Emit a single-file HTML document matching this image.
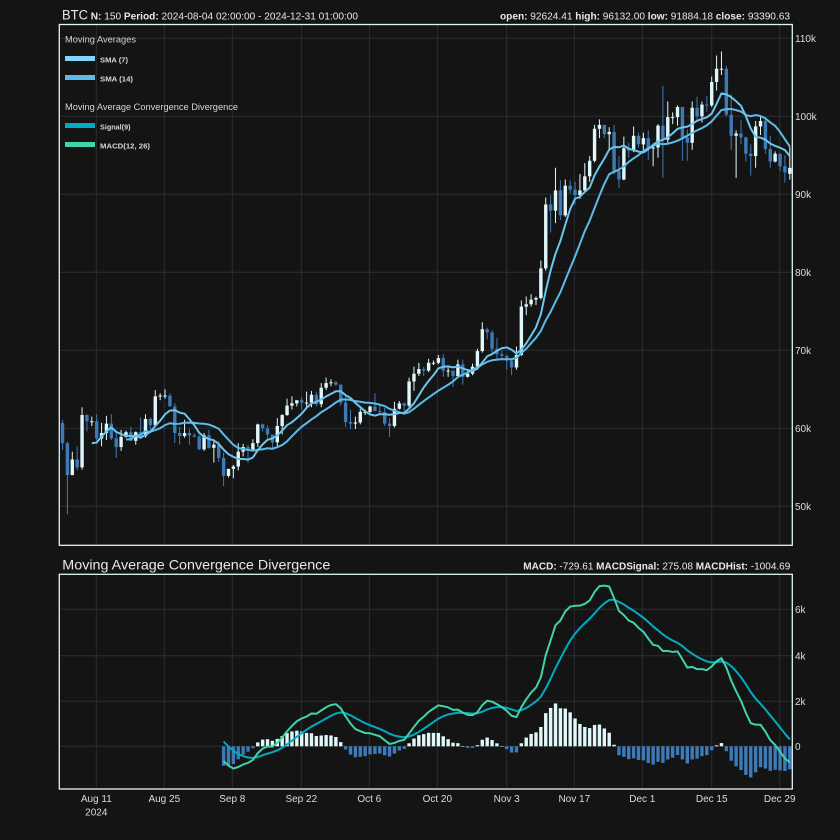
<!DOCTYPE html>
<html><head><meta charset="utf-8"><style>
html,body{margin:0;padding:0;background:#141414;}
svg{display:block;}
text{font-family:"Liberation Sans",sans-serif;}
</style></head><body>
<svg id="s" width="840" height="840" viewBox="0 0 840 840" xmlns="http://www.w3.org/2000/svg">
<rect width="840" height="840" fill="#141414"/>
<defs>
<clipPath id="c1"><rect x="59.3" y="24.5" width="733" height="520.8"/></clipPath>
<clipPath id="c2"><rect x="59.3" y="574.3" width="733" height="214.7"/></clipPath>
</defs>
<g stroke="#2a2e35" stroke-width="1" fill="none">
<path d="M96.3 24.5V545.3M164.3 24.5V545.3M232.3 24.5V545.3M301.3 24.5V545.3M369.3 24.5V545.3M437.3 24.5V545.3M506.7 24.5V545.3M574.3 24.5V545.3M642.3 24.5V545.3M711.7 24.5V545.3M779.7 24.5V545.3"/>
<path d="M59.3 38.3H792.3M59.3 116.3H792.3M59.3 194.3H792.3M59.3 272.3H792.3M59.3 350.3H792.3M59.3 428.3H792.3M59.3 506.3H792.3"/>
<path d="M96.3 574.3V789M164.3 574.3V789M232.3 574.3V789M301.3 574.3V789M369.3 574.3V789M437.3 574.3V789M506.7 574.3V789M574.3 574.3V789M642.3 574.3V789M711.7 574.3V789M779.7 574.3V789"/>
<path d="M59.3 609.3H792.3M59.3 655.7H792.3M59.3 701.3H792.3M59.3 746.3H792.3"/>
</g>
<g id="main" clip-path="url(#c1)"></g>
<g id="macd" clip-path="url(#c2)"></g>
<rect x="59.3" y="24.5" width="733" height="520.8" fill="none" stroke="#dff3f5" stroke-width="1.3"/>
<rect x="59.3" y="574.3" width="733" height="214.7" fill="none" stroke="#dff3f5" stroke-width="1.3"/>

<text x="62" y="19.3" fill="#e8e8e8" textLength="296" lengthAdjust="spacingAndGlyphs"><tspan font-size="13.5">BTC</tspan><tspan font-size="10.5" font-weight="bold"> N:</tspan><tspan font-size="10.5"> 150 </tspan><tspan font-size="10.5" font-weight="bold">Period:</tspan><tspan font-size="10.5"> 2024-08-04 02:00:00 - 2024-12-31 01:00:00</tspan></text>
<text x="500" y="19.3" fill="#e8e8e8" font-size="10.5" textLength="290" lengthAdjust="spacingAndGlyphs"><tspan font-weight="bold">open:</tspan> 92624.41 <tspan font-weight="bold">high:</tspan> 96132.00 <tspan font-weight="bold">low:</tspan> 91884.18 <tspan font-weight="bold">close:</tspan> 93390.63</text>

<text x="65" y="42.7" fill="#cfd8dc" font-size="9" textLength="71" lengthAdjust="spacingAndGlyphs">Moving Averages</text>
<rect x="65" y="56" width="30" height="5" fill="#81d4fa"/>
<text x="100" y="62.3" fill="#cfd8dc" font-size="7.5" font-weight="bold" textLength="28" lengthAdjust="spacingAndGlyphs">SMA (7)</text>
<rect x="65" y="75" width="30" height="5" fill="#5bbce8"/>
<text x="100" y="81.3" fill="#cfd8dc" font-size="7.5" font-weight="bold" textLength="33" lengthAdjust="spacingAndGlyphs">SMA (14)</text>
<text x="65" y="110" fill="#cfd8dc" font-size="9" textLength="173" lengthAdjust="spacingAndGlyphs">Moving Average Convergence Divergence</text>
<rect x="65" y="123" width="30" height="5" fill="#00acc1"/>
<text x="100" y="129.3" fill="#cfd8dc" font-size="7.5" font-weight="bold" textLength="30.5" lengthAdjust="spacingAndGlyphs">Signal(9)</text>
<rect x="65" y="142" width="30" height="5" fill="#40d3aa"/>
<text x="100" y="148.3" fill="#cfd8dc" font-size="7.5" font-weight="bold" textLength="50" lengthAdjust="spacingAndGlyphs">MACD(12, 26)</text>

<text x="62.3" y="569.3" fill="#e8e8e8" font-size="14" textLength="268" lengthAdjust="spacingAndGlyphs">Moving Average Convergence Divergence</text>
<text x="523.3" y="569.3" fill="#e8e8e8" font-size="10.5" textLength="267" lengthAdjust="spacingAndGlyphs"><tspan font-weight="bold">MACD:</tspan> -729.61 <tspan font-weight="bold">MACDSignal:</tspan> 275.08 <tspan font-weight="bold">MACDHist:</tspan> -1004.69</text>

<g fill="#dcdcdc" font-size="10">
<text x="795" y="41.9">110k</text>
<text x="795" y="119.9">100k</text>
<text x="795" y="197.9">90k</text>
<text x="795" y="275.9">80k</text>
<text x="795" y="353.9">70k</text>
<text x="795" y="431.9">60k</text>
<text x="795" y="509.9">50k</text>
<text x="795" y="612.9">6k</text>
<text x="795" y="659.3">4k</text>
<text x="795" y="704.9">2k</text>
<text x="795" y="749.9">0</text>
</g>
<g fill="#dcdcdc" font-size="10" text-anchor="middle">
<text x="96.3" y="802">Aug 11</text>
<text x="96.3" y="815.3">2024</text>
<text x="164.3" y="802">Aug 25</text>
<text x="232.3" y="802">Sep 8</text>
<text x="301.3" y="802">Sep 22</text>
<text x="369.3" y="802">Oct 6</text>
<text x="437.3" y="802">Oct 20</text>
<text x="506.7" y="802">Nov 3</text>
<text x="574.3" y="802">Nov 17</text>
<text x="642.3" y="802">Dec 1</text>
<text x="711.7" y="802">Dec 15</text>
<text x="779.7" y="802">Dec 29</text>
</g>
</svg>
<script>
(function(){
var D=[
[60.7,61.1,57.2,58.1],[58.1,58.3,49.0,54.0],[54.0,57.0,54.0,56.0],[56.0,57.7,54.6,55.0],[55.0,62.7,54.7,61.7],[61.7,61.8,59.6,60.9],[60.9,61.5,60.3,60.9],
[60.9,61.8,58.4,58.7],[58.7,60.7,57.7,59.4],[59.4,61.6,58.5,60.6],[60.6,61.8,58.5,58.7],[58.7,59.8,56.2,57.6],[57.6,59.8,57.1,58.9],[58.9,59.7,58.8,59.5],
[59.5,60.2,58.4,58.4],[58.4,59.6,57.9,59.5],[59.5,61.4,58.6,59.0],[59.0,61.8,58.8,61.2],[61.2,61.4,59.8,60.4],[60.4,64.9,60.3,64.1],[64.1,64.5,63.6,64.2],
[64.2,65.0,63.8,64.2],[64.2,64.5,62.8,62.8],[62.8,63.2,58.1,59.4],[59.4,60.2,57.9,59.0],[59.0,61.1,58.8,59.4],[59.4,59.9,57.9,59.1],[59.1,59.4,58.8,58.95],
[58.95,59.1,57.2,57.3],[57.3,59.4,57.1,59.1],[59.1,59.8,57.4,57.5],[57.5,58.5,55.6,57.9],[57.9,58.3,55.7,56.2],[56.2,56.9,52.6,53.9],[53.9,54.8,53.7,54.8],
[54.8,55.3,53.6,55.1],[55.1,58.1,54.6,57.0],[57.0,58.0,56.4,57.6],[57.6,57.9,55.6,57.3],[57.3,58.6,57.3,58.1],[58.1,60.6,57.6,60.5],[60.5,60.6,59.6,60.0],
[60.0,60.4,58.7,59.2],[59.2,59.2,57.5,58.2],[58.2,61.3,57.6,60.3],[60.3,61.8,59.2,61.7],[61.7,63.8,61.6,62.9],[62.9,64.1,62.4,63.2],[63.2,63.5,62.8,63.6],
[63.6,64.0,62.4,63.3],[63.3,64.7,62.7,63.3],[63.3,64.8,62.7,64.3],[64.3,64.7,62.8,63.1],[63.1,65.8,62.7,65.2],[65.2,66.5,64.9,65.8],[65.8,66.3,65.4,65.9],
[65.9,66.1,65.4,65.6],[65.6,65.6,62.9,63.3],
[63.3,64.1,60.2,60.8],[60.8,62.4,59.9,60.6],[60.6,61.5,59.9,60.75],[60.75,62.5,60.5,62.1],[62.1,62.4,61.7,62.1],[62.1,62.9,61.9,62.8],[62.8,64.5,62.2,62.2],
[62.2,63.2,61.9,62.1],[62.1,62.6,60.3,60.6],[60.6,61.3,58.9,60.3],[60.3,63.4,60.1,62.5],[62.5,63.5,62.4,63.2],[63.2,63.3,62.0,62.9],[62.9,66.5,62.4,66.0],
[66.0,67.9,64.8,67.0],[67.0,68.4,66.7,67.6],[67.6,67.9,66.7,67.4],[67.4,68.9,67.2,68.4],[68.4,68.7,68.1,68.4],[68.4,69.4,68.2,69.0],[69.0,69.5,66.6,67.4],
[67.4,67.8,66.6,67.4],[67.4,67.4,65.3,66.7],[66.7,68.8,66.6,68.2],[68.2,68.8,65.6,66.6],[66.6,67.4,66.5,67.0],[67.0,68.3,66.8,67.9],[67.9,70.2,67.5,69.9],
[69.9,73.6,69.7,72.7],[72.7,72.9,71.4,72.3],[72.3,72.6,69.7,70.2],
[70.2,71.6,68.8,69.5],[69.5,69.9,69.0,69.3],[69.3,69.4,67.5,68.7],[68.7,69.0,66.8,67.8],[67.8,70.5,67.5,69.4],[69.4,76.4,69.3,75.6],[75.6,76.9,74.5,75.9],
[75.9,77.2,75.6,76.5],[76.5,76.9,75.8,76.7],[76.7,81.5,76.5,80.5],[80.5,89.6,80.2,88.7],[88.7,89.9,85.1,87.9],[87.9,93.4,86.3,90.5],[90.5,91.8,86.7,87.3],
[87.3,91.9,87.1,91.1],[91.1,91.8,90.1,90.6],[90.6,91.6,88.7,89.9],[89.9,92.6,89.4,90.5],[90.5,94.0,90.4,92.3],[92.3,94.9,91.6,94.3],[94.3,98.9,94.1,98.4],
[98.4,99.6,97.2,98.9],[98.9,98.9,97.2,97.7],[97.7,98.6,95.8,98.0],[98.0,98.9,92.6,93.0],[93.0,94.9,90.8,91.9],[91.9,97.4,91.8,95.9],[95.9,96.6,94.7,95.6],
[95.6,98.7,95.4,97.5],[97.5,97.9,96.0,96.4],
[96.4,97.9,95.7,97.2],[97.2,98.2,94.4,95.9],[95.9,96.3,93.6,96.0],[96.0,99.0,94.7,98.8],[98.8,103.9,92.1,97.0],[97.0,101.9,96.4,99.9],[99.9,100.5,99.0,99.9],
[99.9,101.4,98.8,101.2],[101.2,101.2,94.3,97.3],[97.3,98.3,94.3,96.6],[96.6,101.9,95.7,101.1],[101.1,102.5,99.3,100.0],[100.0,101.9,99.2,101.5],[101.5,102.6,100.6,101.4],
[101.4,105.1,101.2,104.4],[104.4,107.8,103.3,106.1],[106.1,108.3,105.3,106.1],[106.1,106.5,100.0,100.2],[100.2,102.8,95.7,97.5],[97.5,98.2,92.1,97.8],[97.8,99.5,96.4,97.3],
[97.3,97.4,94.2,95.2],[95.2,96.4,92.4,94.9],[94.9,99.4,93.4,98.7],[98.7,99.9,97.6,99.4],[99.4,99.9,95.2,95.8],[95.8,97.5,93.4,94.2],[94.2,95.5,94.1,95.2],
[95.2,95.2,93.0,93.6],[93.6,95.0,91.5,92.8],[92.624,96.132,91.884,93.391]
];
var NS="http://www.w3.org/2000/svg";
function X(i){return 62.53+4.881*i;}
function Y(p){return 116.3+(100-p)*7.8;}
function YM(v){return 746.3-v*0.02285;}
function el(t,a,parent){var e=document.createElementNS(NS,t);for(var k in a)e.setAttribute(k,a[k]);parent.appendChild(e);return e;}
var gm=document.getElementById('main'),gd=document.getElementById('macd');
var UP="#e0f7fa",DN="#3d7bb8";
var n=D.length,C=[];
for(var i=0;i<n;i++){
  var o=D[i][0],h=D[i][1],l=D[i][2],c=D[i][3];C.push(c*1000);
  var col=c>=o?UP:DN,x=X(i);
  el('line',{x1:x,x2:x,y1:Y(h),y2:Y(l),stroke:col,'stroke-width':1},gm);
  var y1=Y(Math.max(o,c)),y2=Y(Math.min(o,c));
  el('rect',{x:x-1.7,y:y1,width:3.4,height:Math.max(y2-y1,1),fill:col},gm);
}
function sma(p){var out=[];for(var i=0;i<n;i++){if(i<p-1){out.push(null);continue;}var s=0;for(var j=i-p+1;j<=i;j++)s+=C[j];out.push(s/p);}return out;}
function path(arr,fx,fy,start){var d="";for(var i=start;i<arr.length;i++){if(arr[i]==null)continue;d+=(d?"L":"M")+fx(i).toFixed(2)+" "+fy(arr[i]).toFixed(2);}return d;}
var s14=sma(14),s7=sma(7);
el('path',{d:path(s14,X,function(v){return Y(v/1000);},0),stroke:"#5bbce8",'stroke-width':2,fill:"none",'stroke-linejoin':"round"},gm);
el('path',{d:path(s7,X,function(v){return Y(v/1000);},0),stroke:"#6ac6ef",'stroke-width':2,fill:"none",'stroke-linejoin':"round"},gm);
function ema(arr,p,start){var out=new Array(arr.length).fill(null);var k=2/(p+1),s=0;for(var i=start;i<start+p;i++)s+=arr[i];var e=s/p;out[start+p-1]=e;for(var i=start+p;i<arr.length;i++){e=arr[i]*k+e*(1-k);out[i]=e;}return out;}
var e12=ema(C,12,0),e26=ema(C,26,0),m=new Array(n).fill(null);
for(var i=25;i<n;i++)m[i]=e12[i]-e26[i];
var sg=ema(m,9,25),hs=new Array(n).fill(null);
for(var i=33;i<n;i++){hs[i]=m[i]-sg[i];var x=X(i),y0=YM(0),yv=YM(hs[i]);
  el('rect',{x:x-1.7,y:Math.min(y0,yv),width:3.4,height:Math.max(Math.abs(yv-y0),0.5),fill:hs[i]>=0?UP:DN},gd);}
var mm=m.map(function(v,i){return i<33?null:v;}),ss=sg.map(function(v,i){return i<33?null:v;});
el('path',{d:path(ss,X,YM,33),stroke:"#00acc1",'stroke-width':2,fill:"none",'stroke-linejoin':"round"},gd);
el('path',{d:path(mm,X,YM,33),stroke:"#40d3aa",'stroke-width':2,fill:"none",'stroke-linejoin':"round"},gd);
})();
</script>
</body></html>
